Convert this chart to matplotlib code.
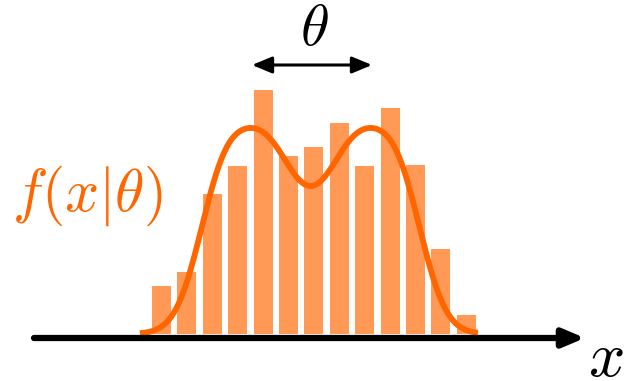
import matplotlib
matplotlib.use('Agg')
import matplotlib.pyplot as plt
import numpy as np

plt.rcParams['mathtext.fontset'] = 'cm'

# histogram: bar i sits at x = i, heights in plot units
bar_heights = [48, 62, 140, 168, 244, 178, 187, 211, 168, 226, 169, 85, 19]

# f(x|theta): gaussian mixture
mix_means = [2.201, 3.953, 7.791, 9.543]
mix_sigmas = [0.892, 1.410, 1.410, 0.892]
mix_weights = [77.68, 186.72, 186.72, 77.68]
curve_range = (-0.85, 12.46)


def density(x):
    y = np.zeros_like(x)
    for m, s, w in zip(mix_means, mix_sigmas, mix_weights):
        y += w * np.exp(-(x - m) ** 2 / (2 * s ** 2))
    return y


fig = plt.figure(figsize=(6.3, 3.81), dpi=100)
ax = fig.add_axes([0, 0, 1, 1])
ax.set_xlim(-161.5 / 25.4, (630 - 161.5) / 25.4)
ax.set_ylim(-47, 334)
ax.axis('off')

ax.bar(range(len(bar_heights)), bar_heights, width=0.75, color='#ff9955', zorder=1)
xx = np.linspace(curve_range[0], curve_range[1], 400)
ax.plot(xx, density(xx), color='#ff6600', lw=4.2, zorder=2, solid_capstyle='butt')

# x axis with arrow
ax.annotate('', xy=(16.67, -4), xytext=(-5.02, -4),
            arrowprops=dict(arrowstyle='-|>,head_length=13,head_width=5.5', lw=4.5,
                            color='black', shrinkA=0, shrinkB=0, mutation_scale=1))
# theta span arrow
ax.annotate('', xy=(8.287, 269), xytext=(3.563, 269),
            arrowprops=dict(arrowstyle='<|-|>,head_length=12,head_width=5', lw=2.2,
                            color='black', shrinkA=0, shrinkB=0, mutation_scale=1))

ax.text(6.004, 306, r'$\theta$', fontsize=42, ha='center', va='center')
ax.text(-2.933, 138.5, r'$f(x|\theta)$', fontsize=43, color='#ff6600',
        ha='center', va='center')
ax.text(17.5, -42, r'$x$', fontsize=46, ha='center', va='baseline')

fig.savefig('out.png', dpi=100)
